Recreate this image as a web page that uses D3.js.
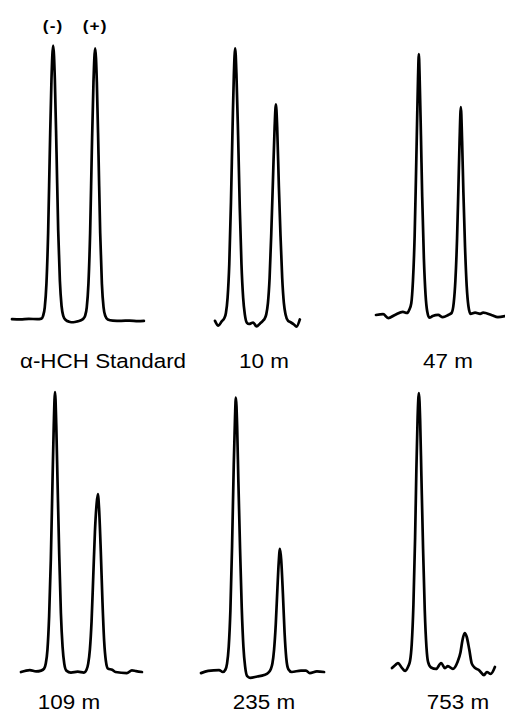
<!DOCTYPE html>
<html>
<head>
<meta charset="utf-8">
<script src="https://cdn.jsdelivr.net/npm/d3@7"></script>
<style>
  html, body { margin: 0; padding: 0; background: #fff; }
  svg { display: block; font-family: "Liberation Sans", Arial, sans-serif; }
</style>
</head>
<body>
<div id="chart"></div>
<script>
// Chromatograms of alpha-HCH enantiomers, one trace per sample depth.
// Each trace: [retention time (arbitrary units), detector signal (% of tallest peak)]

const panelLabels = ["α-HCH Standard", "10 m", "47 m", "109 m", "235 m", "753 m"];
const enantiomerLabels = ["(-)", "(+)"];
const enantiomerTimes = [9.8, 19.8]; // peak times in the standard

const traceStandard = [
  [0, 0.3], [2, 0.2], [4, 0.4], [6, 0.3], [7, 0.5], [7.4, 1.5], [7.8, 4.5], [8.2, 13],
  [8.6, 31], [9.0, 60], [9.4, 86], [9.8, 98], [10.2, 86], [10.6, 60], [11.0, 32],
  [11.4, 14], [11.8, 5], [12.2, 1.5], [12.8, 0], [13.6, -0.6], [14.6, -0.8], [15.6, -0.5],
  [16.4, -0.1], [17.0, 0.5], [17.4, 1.5], [17.8, 4.5], [18.2, 13], [18.6, 31], [19.0, 60],
  [19.4, 85], [19.8, 97], [20.2, 85], [20.6, 59], [21.0, 31], [21.4, 13], [21.8, 4.5],
  [22.2, 1.5], [22.8, 0.2], [24, -0.2], [26, -0.3], [28, -0.2], [30, -0.4], [31.4, -0.3]
];

const trace10m = [
  [0, -0.3], [0.8, -2.0], [1.6, -0.5], [2.2, 0.6], [2.6, 2.5], [3.0, 8], [3.4, 20],
  [3.8, 42], [4.2, 70], [4.5, 88], [4.8, 97], [5.1, 88], [5.5, 66], [5.9, 40], [6.3, 20],
  [6.7, 8], [7.1, 2], [7.6, -1.0], [8.1, -1.4], [9.1, -0.9], [9.9, -2.3], [10.7, -1.3],
  [11.4, -0.3], [11.8, 0.4], [12.2, 2], [12.6, 6], [13.0, 15], [13.4, 31], [13.8, 50],
  [14.2, 69], [14.5, 77], [14.8, 69], [15.2, 48], [15.6, 30], [16.0, 15], [16.4, 6],
  [16.8, 2], [17.4, -0.3], [18.0, -0.8], [18.8, -1.6], [19.4, -2.4], [20.2, 0.2]
];

const trace47m = [
  [0, 1.8], [1.7, 2.1], [2.9, 0.7], [4.5, 1.8], [6.4, 2.9], [7.4, 2.5], [7.9, 3.6],
  [8.4, 6], [8.8, 14], [9.2, 30], [9.5, 50], [9.8, 72], [10.0, 86], [10.2, 95],
  [10.4, 86], [10.7, 66], [11.0, 44], [11.4, 22], [11.8, 9], [12.2, 3], [12.7, 0.8],
  [13.5, 1.4], [14.8, 1.8], [15.9, 1.0], [17.2, 1.8], [18.0, 2.5], [18.5, 6], [18.9, 14],
  [19.3, 29], [19.6, 46], [19.9, 64], [20.2, 76], [20.5, 64], [20.8, 46], [21.2, 26],
  [21.6, 12], [22.0, 5], [22.5, 2.2], [23.6, 2.6], [24.8, 2.2], [25.5, 2.6], [27.6, 1.7],
  [29.0, 1.0], [30.7, 1.4]
];

const trace109m = [
  [0, 0], [2.1, 0.7], [3.6, 0.2], [4.8, 0.5], [5.5, 1.2], [5.9, 3], [6.3, 8], [6.7, 20],
  [7.1, 40], [7.5, 68], [7.8, 88], [8.1, 100], [8.4, 88], [8.7, 68], [9.1, 42], [9.5, 21],
  [9.9, 9], [10.3, 3], [10.8, 0.5], [11.9, -0.2], [13.5, 0.1], [15.0, -0.2], [15.6, 0.8],
  [16.0, 3], [16.4, 8], [16.8, 18], [17.2, 34], [17.6, 50], [18.0, 60], [18.3, 63.5],
  [18.6, 58], [19.0, 43], [19.4, 25], [19.8, 11], [20.2, 4], [20.7, 1.2], [21.7, 0.8],
  [22.5, 0], [25.2, -0.4], [26.4, 0.6], [27.4, 0.3], [28.8, 0]
];

const trace235m = [
  [0, -0.4], [1.7, 0.4], [4.3, 0.7], [5.2, 0], [5.8, 0.8], [6.2, 3], [6.6, 9], [7.0, 22],
  [7.4, 45], [7.8, 74], [8.1, 91], [8.3, 98], [8.6, 88], [8.9, 68], [9.3, 44], [9.7, 23],
  [10.1, 9], [10.5, 2], [11.0, -1.5], [11.7, -2.1], [13.4, -1.6], [15.0, -1.1],
  [16.0, -0.3], [16.6, 1], [17.0, 3], [17.4, 8], [17.8, 17], [18.2, 30], [18.5, 39],
  [18.8, 44], [19.1, 40], [19.5, 28], [19.9, 14], [20.3, 5], [20.8, 1], [21.6, 0],
  [23.8, 0.5], [25.0, 0.5], [25.9, -0.4], [27.6, 0.2], [29.3, 0]
];

const trace753m = [
  [0, 1.4], [0.8, 2.5], [1.4, 3.2], [2.4, 1.4], [3.1, 0.4], [3.8, 1.8], [4.3, 4],
  [4.7, 10], [5.1, 24], [5.5, 48], [5.8, 72], [6.1, 91], [6.4, 99.6], [6.7, 90],
  [7.0, 70], [7.4, 44], [7.8, 22], [8.2, 9], [8.6, 3.5], [9.3, 1.6], [10.5, 1.1],
  [11.7, 3.2], [12.6, 1.4], [13.3, 2.1], [14.5, 1.1], [15.6, 3.6], [16.3, 7], [16.8, 11.5],
  [17.3, 13.9], [17.8, 12.5], [18.4, 8], [19.0, 3], [19.8, 1.4], [20.7, 0.7],
  [21.9, -1.1], [22.6, 0], [23.5, -0.7], [24.5, 1.8]
];

const traces = [traceStandard, trace10m, trace47m, trace109m, trace235m, trace753m];

// ---- layout ----
const width = 505;
const height = 713;
const pxPerTime = 4.2;      // horizontal scale shared by every panel
const signalSpan = 280;     // pixels for 100 % signal
const rowBaselines = [320, 672];
const panelLeft = [12, 215, 376, 21, 201, 392];
const labelCenters = [103, 264, 448, 69, 264, 458];
const labelBaselines = [368, 709];
const textStretch = 1.15;   // the figure's lettering is a little wide

const svg = d3.select("#chart")
  .append("svg")
  .attr("width", width)
  .attr("height", height);

const line = d3.line()
  .x(d => d[0])
  .y(d => d[1])
  .curve(d3.curveMonotoneX);

traces.forEach((trace, i) => {
  const row = Math.floor(i / 3);
  const tMax = d3.max(trace, d => d[0]);

  const x = d3.scaleLinear()
    .domain([0, tMax])
    .range([panelLeft[i], panelLeft[i] + tMax * pxPerTime]);

  const y = d3.scaleLinear()
    .domain([0, 100])
    .range([rowBaselines[row], rowBaselines[row] - signalSpan]);

  svg.append("path")
    .datum(trace.map(d => [x(d[0]), y(d[1])]))
    .attr("fill", "none")
    .attr("stroke", "#000")
    .attr("stroke-width", 2.7)
    .attr("stroke-linejoin", "round")
    .attr("stroke-linecap", "round")
    .attr("d", line);

  // enantiomer tags above the standard's peaks
  if (i === 0) {
    svg.append("g")
      .selectAll("text")
      .data(enantiomerLabels)
      .join("text")
      .attr("transform", (d, k) => `translate(${x(enantiomerTimes[k])},31) scale(${textStretch},1)`)
      .attr("text-anchor", "middle")
      .attr("font-size", 15)
      .attr("font-weight", "bold")
      .attr("letter-spacing", 1)
      .text(d => d);
  }

  svg.append("text")
    .attr("transform", `translate(${labelCenters[i]},${labelBaselines[row]}) scale(${textStretch},1)`)
    .attr("text-anchor", "middle")
    .attr("font-size", 19.5)
    .attr("fill", "#000")
    .text(panelLabels[i]);
});
</script>
</body>
</html>
